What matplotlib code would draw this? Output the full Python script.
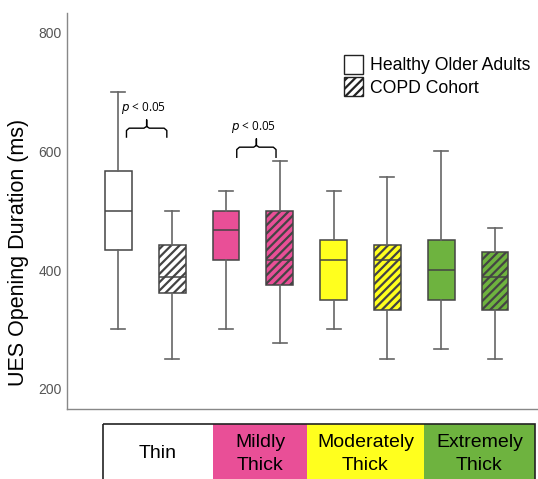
import matplotlib
matplotlib.use("Agg")
import matplotlib.pyplot as plt
from matplotlib.patches import Rectangle, Patch

plt.rcParams['font.family'] = ['Liberation Sans', 'DejaVu Sans']
plt.rcParams['hatch.linewidth'] = 1.6

# box statistics (ms), order: Thin H, Thin C, Mild H, Mild C, Mod H, Mod C, Ext H, Ext C
whis_low = [300, 250, 300, 277, 300, 250, 267, 250]
q1 = [434, 361, 417, 375, 349, 333, 349, 333]
medians = [500, 389, 467, 417, 417, 417, 400, 389]
q3 = [567, 443, 500, 500, 451, 443, 451, 430]
whis_high = [700, 500, 533, 583, 533, 556, 600, 471]

groups = ["Thin", "Mildly\nThick", "Moderately\nThick", "Extremely\nThick"]
group_colors = ["#FFFFFF", "#E94F97", "#FFFF1E", "#6EB33F"]
cohorts = ["Healthy Older Adults", "COPD Cohort"]

W, H = 538, 479
fig = plt.figure(figsize=(W / 100, H / 100), dpi=100)
ax = fig.add_axes([67.3 / W, (H - 409) / H, 1 - 67.3 / W, (409 - 13) / H])

stats = []
for i in range(8):
    stats.append(dict(med=medians[i], q1=q1[i], q3=q3[i],
                      whislo=whis_low[i], whishi=whis_high[i], fliers=[]))

bp = ax.bxp(stats, positions=range(8), widths=0.5, patch_artist=True,
            showfliers=False,
            boxprops=dict(edgecolor="#444444", linewidth=1.1),
            medianprops=dict(color="#444444", linewidth=1.1),
            whiskerprops=dict(color="#666666", linewidth=1.2),
            capprops=dict(color="#666666", linewidth=1.2), capwidths=0.26)

for i, box in enumerate(bp["boxes"]):
    box.set_facecolor(group_colors[i // 2])
    if i % 2 == 1:
        box.set_hatch("////")

ax.set_xlim(-0.95, 7.8)
ax.set_ylim(166, 833)
ax.set_yticks([200, 400, 600, 800])
ax.set_xticks([])
ax.tick_params(axis="y", length=0, pad=4, labelsize=10, labelcolor="#555555")
for s in ["top", "right"]:
    ax.spines[s].set_visible(False)
for s in ["left", "bottom"]:
    ax.spines[s].set_color("#888888")
    ax.spines[s].set_linewidth(1.0)
fig.text(19 / W, (H - 252) / H, "UES Opening Duration (ms)", rotation=90,
         ha="center", va="center", fontsize=15.5)

# significance brackets
def bracket(x0, x1, yb, yt, yp, ty):
    xm = (x0 + x1) / 2
    r = 0.05
    ax.plot([x0, x0, x0 + r, xm - r, xm, xm, xm, xm + r, x1 - r, x1, x1],
            [yb, yt - 4, yt, yt, yt + 3, yp, yt + 3, yt, yt, yt - 4, yb],
            color="black", linewidth=1.0, solid_joinstyle="round")
    ax.text(xm - 0.05, ty, "$p$ < 0.05", ha="center", va="center",
            fontsize=8.5, family=["Open Sans", "DejaVu Sans"])

bracket(0.15, 0.9, 624, 639, 653, 673)
bracket(2.2, 2.93, 590, 607, 621, 641)

handles = [Patch(facecolor="white", edgecolor="#222222", label=cohorts[0]),
           Patch(facecolor="white", edgecolor="#222222", hatch="////", label=cohorts[1])]
fig.legend(handles=handles, loc="upper left", bbox_to_anchor=(335 / W, (H - 46) / H),
           frameon=False, fontsize=12.7, handlelength=1.1, handleheight=1.3,
           handletextpad=0.4, labelspacing=0.15, borderpad=0)

# category table below the axis
tax = fig.add_axes([0, 0, 1, 1], facecolor="none")
tax.set_xlim(0, W)
tax.set_ylim(H, 0)
tax.axis("off")
edges = [103, 213, 307, 424, 535]
for i, g in enumerate(groups):
    tax.add_patch(Rectangle((edges[i], 424), edges[i + 1] - edges[i], 60,
                            facecolor=group_colors[i], edgecolor="none"))
    tax.text((edges[i] + edges[i + 1]) / 2, 454, g, ha="center", va="center",
             fontsize=14, linespacing=1.45)
tax.add_patch(Rectangle((edges[0], 424), edges[-1] - edges[0], 60,
                        facecolor="none", edgecolor="#222222", linewidth=1.2))

fig.savefig("out.png", dpi=100)
